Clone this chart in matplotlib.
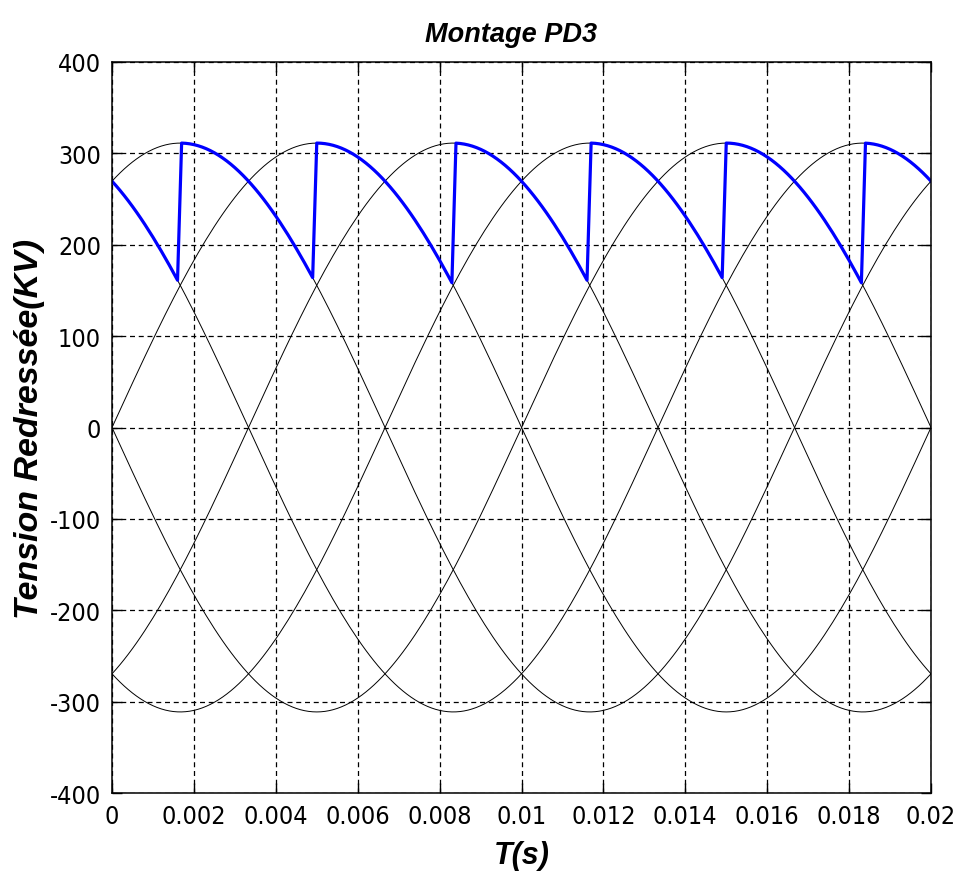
import numpy as np
import matplotlib
matplotlib.use("Agg")
import matplotlib.pyplot as plt

plt.rcParams["axes.unicode_minus"] = False

# Réseau triphasé 220 V efficace -> 311 V crête, 50 Hz
amplitude = 311.0
frequence = 50.0
dt = 1e-4
t_fin = 0.02

# Six tensions simples / opposées décalées de 60°
dephasages_deg = [0, 60, 120, 180, 240, 300]

# Instants de commutation du pont PD3 (sommets des sinusoïdes)
commutations = [-0.001667, 0.001667, 0.005, 0.008333, 0.011667, 0.015, 0.018333]

x_ticks = [0, 0.002, 0.004, 0.006, 0.008, 0.01, 0.012, 0.014, 0.016, 0.018, 0.02]
x_labels = ["0", "0.002", "0.004", "0.006", "0.008", "0.01", "0.012", "0.014", "0.016", "0.018", "0.02"]
y_ticks = [-400, -300, -200, -100, 0, 100, 200, 300, 400]

t = np.arange(0, t_fin + dt / 2, dt)
w = 2 * np.pi * frequence

# tension redressée : on suit la phase depuis la dernière commutation
t_k = np.array([max(c for c in commutations if c <= ti + 1e-9) for ti in t])
u_red = amplitude * np.cos(w * (t - t_k))

fig = plt.figure(figsize=(9.59, 8.78), dpi=100)
ax = fig.add_axes([0.1168, 0.0953, 0.8540, 0.8333])

for phi in dephasages_deg:
    ax.plot(t, amplitude * np.sin(w * t + np.deg2rad(phi)), color="black", lw=0.7)

ax.plot(t, u_red, color=(0, 0, 1), lw=2.3)

ax.set_xlim(0, t_fin)
ax.set_ylim(-400, 400)
ax.set_xticks(x_ticks)
ax.set_xticklabels(x_labels)
ax.set_yticks(y_ticks)

for lab in ax.get_xticklabels() + ax.get_yticklabels():
    lab.set_family("DejaVu Sans")
    lab.set_stretch("condensed")
    lab.set_fontsize(18)

ax.tick_params(direction="in", length=7, width=1, top=True, right=True, pad=8)
ax.grid(True, color="black", linestyle=(0, (4, 3)), linewidth=0.9)
for s in ax.spines.values():
    s.set_linewidth(1.1)

lab_font = dict(family="Liberation Sans", weight="bold", style="italic")
ax.set_title("Montage PD3", fontsize=19.5, pad=15, x=0.487, **lab_font)
ax.set_xlabel("T(s)", fontsize=22, labelpad=8, **lab_font)
ax.set_ylabel("Tension Redressée(KV)", fontsize=24.5, **lab_font)
ax.yaxis.set_label_coords(-0.082, 0.5)

fig.savefig("out.png", dpi=100, facecolor="white")
